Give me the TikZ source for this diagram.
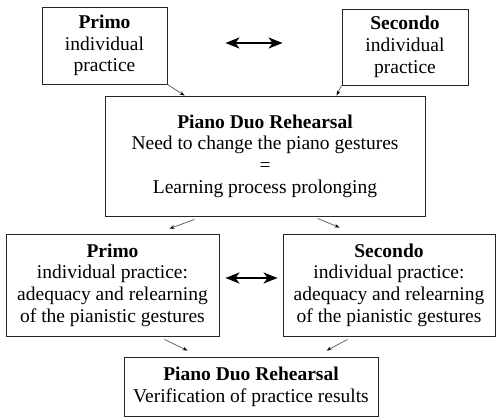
\documentclass[tikz,border=0pt]{standalone}
\usepackage{fontspec}
\setmainfont{Liberation Serif}
\usetikzlibrary{arrows.meta,calc}
\tikzset{
  box/.style={draw=black!85, line width=0.9pt, align=center, inner sep=0pt,
    font=\fontsize{19.5}{21.7}\selectfont},
  conn/.style={draw=black!60, line width=0.8pt, -{Stealth[length=5pt,width=3.6pt,color=black,fill=black]}},
  dbl/.style={line width=2pt, {Stealth[length=14pt,width=11pt,inset=4pt]}-{Stealth[length=14pt,width=11pt,inset=4pt]}}
}
\begin{document}
\begin{tikzpicture}[x=1pt,y=-1pt]
\useasboundingbox (0,0) rectangle (496,417);
\node[box, minimum width=125pt, minimum height=77pt] (P1) at (104.5,45.5)
  {\textbf{Primo}\\individual\\practice};
\node[box, minimum width=126pt, minimum height=76pt] (S1) at (405,47)
  {\textbf{Secondo}\\individual\\practice};
\node[box, minimum width=320pt, minimum height=120pt] (M) at (265,156)
  {\textbf{Piano Duo Rehearsal}\\Need to change the piano gestures\\=\\Learning process prolonging};
\node[box, minimum width=213pt, minimum height=102pt] (P2) at (112.5,285)
  {\textbf{Primo}\\individual practice:\\adequacy and relearning\\of the pianistic gestures};
\node[box, minimum width=212pt, minimum height=102pt] (S2) at (389,285)
  {\textbf{Secondo}\\individual practice:\\adequacy and relearning\\of the pianistic gestures};
\node[box, minimum width=254pt, minimum height=59pt] (B) at (251,386.5)
  {\textbf{Piano Duo Rehearsal}\\Verification of practice results};

\draw[dbl] ($(P1.east)+(58,-2.5)$) -- ($(S1.west)+(-59,-4)$);
\draw[dbl] ($(P2.east)+(6,-7)$) -- ($(S2.west)+(-5,-7)$);

\draw[conn] (P1.south east) -- ($(M.north west)+(80,0)$);
\draw[conn] (S1.south west) -- ($(M.north west)+(232,0)$);
\draw[conn] ($(M.south west)+(90,3)$) -- ($(P2.north west)+(164,-5)$);
\draw[conn] ($(M.south west)+(213,2)$) -- ($(S2.north west)+(57,-6)$);
\draw[conn] ($(P2.south west)+(159,3)$) -- ($(B.north west)+(64,-6)$);
\draw[conn] ($(S2.south west)+(65,3)$) -- ($(B.north west)+(203,-6)$);
\end{tikzpicture}
\end{document}
